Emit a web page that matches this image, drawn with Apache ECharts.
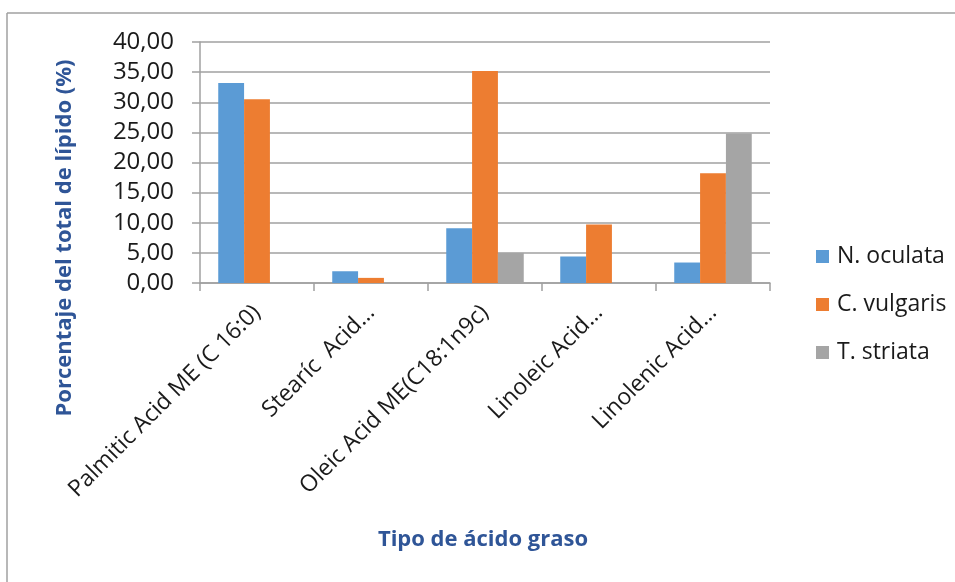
<!DOCTYPE html>
<html>
<head>
<meta charset="utf-8">
<script src="https://cdn.jsdelivr.net/npm/echarts@6/dist/echarts.min.js"></script>
<style>
  html, body { margin: 0; padding: 0; background: #fff; }
  #main { width: 955px; height: 582px; }
</style>
</head>
<body>
<div id="main"></div>
<script>
// categories and values
const categories = ['Palmitic Acid ME (C 16:0)', 'Stearíc  Acid…', 'Oleic Acid ME(C18:1n9c)', 'Linoleic Acid…', 'Linolenic Acid…'];
const seriesNames = ['N. oculata', 'C. vulgaris', 'T. striata'];
const nOculata = [33.2, 1.95, 9.1, 4.4, 3.4];
const cVulgaris = [30.5, 0.85, 35.2, 9.7, 18.2];
const tStriata = [null, null, 5.0, null, 24.8];
const yTicks = [0, 5, 10, 15, 20, 25, 30, 35, 40];

const colors = ['#5B9BD5', '#ED7D31', '#A5A5A5'];
const blueTitle = '#2F5597';
const font = '"Open Sans", "Noto Sans", sans-serif';

let myChart = echarts.init(document.getElementById('main'));

let option = {
    animation: false,
    color: colors,
    graphic: [
        // outer frame (top and left edges visible)
        {type: 'line', shape: {x1: 7, y1: 13, x2: 955, y2: 13}, style: {stroke: '#a0a0a0', lineWidth: 1.5}},
        {type: 'line', shape: {x1: 7, y1: 13, x2: 7, y2: 582}, style: {stroke: '#a0a0a0', lineWidth: 1.5}},
        {
            type: 'text', x: 65, y: 238, rotation: Math.PI / 2,
            style: {
                text: 'Porcentaje del total de lípido (%)',
                fill: blueTitle, font: 'bold 22px ' + font,
                textAlign: 'center', textVerticalAlign: 'middle'
            }
        },
        {
            type: 'text', x: 483, y: 540,
            style: {
                text: 'Tipo de ácido graso',
                fill: blueTitle, font: 'bold 22px ' + font,
                textAlign: 'center', textVerticalAlign: 'middle'
            }
        }
    ],
    legend: {
        orient: 'vertical',
        left: 811,
        top: 240,
        itemWidth: 13,
        itemHeight: 13,
        itemGap: 25,
        icon: 'rect',
        data: seriesNames,
        textStyle: {fontFamily: font, fontSize: 23, color: '#1a1a1a', padding: [0, 0, 0, 3]}
    },
    grid: {
        left: 200,
        right: 185,
        top: 42,
        bottom: 299,
        containLabel: false
    },
    xAxis: {
        type: 'category',
        data: categories,
        axisLine: {lineStyle: {color: '#a0a0a0', width: 1.5}},
        axisTick: {show: true, length: 8, lineStyle: {color: '#a0a0a0', width: 1.5}},
        axisLabel: {
            rotate: 45,
            interval: 0,
            margin: 26,
            fontFamily: font,
            fontSize: 23,
            color: '#1a1a1a'
        }
    },
    yAxis: {
        type: 'value',
        min: yTicks[0],
        max: yTicks[yTicks.length - 1],
        interval: 5,
        axisLine: {show: true, lineStyle: {color: '#a0a0a0', width: 1.5}},
        axisTick: {show: true, length: 8, lineStyle: {color: '#a0a0a0', width: 1.5}},
        splitLine: {lineStyle: {color: '#a0a0a0', width: 1.5}},
        axisLabel: {
            margin: 26,
            fontFamily: font,
            fontSize: 24,
            color: '#1a1a1a',
            formatter: function (v) {
                return v.toFixed(2).replace('.', ',');
            }
        }
    },
    series: [
        {name: seriesNames[0], type: 'bar', data: nOculata, barGap: 0, barCategoryGap: '32%'},
        {name: seriesNames[1], type: 'bar', data: cVulgaris, barGap: 0, barCategoryGap: '32%'},
        {name: seriesNames[2], type: 'bar', data: tStriata, barGap: 0, barCategoryGap: '32%'}
    ]
};

myChart.setOption(option);
</script>
</body>
</html>
